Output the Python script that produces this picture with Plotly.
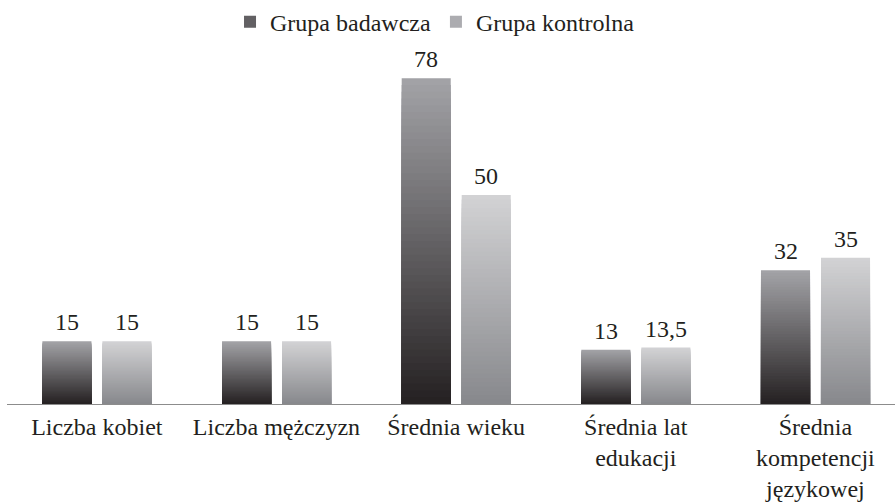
import plotly.graph_objects as go

categories = ["Liczba kobiet", "Liczba mężczyzn", "Średnia wieku",
              "Średnia lat<br>edukacji", "Średnia<br>kompetencji<br>językowej"]
badawcza = [15, 15, 78, 13, 32]
kontrolna = [15, 15, 50, 13.5, 35]
badawcza_labels = ["15", "15", "78", "13", "32"]
kontrolna_labels = ["15", "15", "50", "13,5", "35"]
series_names = ["Grupa badawcza", "Grupa kontrolna"]

FONT = "Liberation Serif"
TXT = "#231f20"
FS = 24
N = 48  # gradient steps


def lerp(c0, c1, t):
    return "rgb(%d,%d,%d)" % tuple(round(a + (b - a) * t) for a, b in zip(c0, c1))


WIDTH = 0.273
series = [
    dict(name=series_names[0], vals=badawcza, labels=badawcza_labels,
         bottom=(35, 31, 32), top=(162, 162, 166), offset=-0.303),
    dict(name=series_names[1], vals=kontrolna, labels=kontrolna_labels,
         bottom=(134, 135, 139), top=(210, 210, 212), offset=0.031),
]

fig = go.Figure()
for s in series:
    for k in range(N):
        frac = (N - k) / N
        color = lerp(s["bottom"], s["top"], frac)
        fig.add_trace(go.Bar(
            x=categories,
            y=[v * frac for v in s["vals"]],
            name=s["name"],
            legendgroup=s["name"],
            showlegend=(k == N // 2),
            marker=dict(color=color, line=dict(width=0)),
            width=WIDTH,
            offset=s["offset"],
            hoverinfo="skip",
        ))

# value labels above bars
PX_PER_CAT = 888 / 4.943
for s in series:
    center_px = (s["offset"] + WIDTH / 2) * PX_PER_CAT
    for cat, v, lab in zip(categories, s["vals"], s["labels"]):
        fig.add_annotation(x=cat, y=v, text=lab, showarrow=False,
                           xanchor="center", yanchor="bottom",
                           xshift=center_px, yshift=4,
                           font=dict(family=FONT, size=FS, color=TXT))

fig.update_layout(
    width=895, height=502,
    barmode="overlay",
    paper_bgcolor="white", plot_bgcolor="white",
    margin=dict(l=7, r=0, t=28, b=98, autoexpand=False),
    font=dict(family=FONT, size=FS, color=TXT),
    legend=dict(orientation="h", x=0.482, xanchor="center",
                yref="container", y=0.956, yanchor="middle",
                font=dict(family=FONT, size=FS, color=TXT),
                bgcolor="rgba(0,0,0,0)"),
    xaxis=dict(range=[-0.5, 4.443], showline=True, linecolor="#8c8c8c",
               linewidth=1, showgrid=False, ticks="outside", ticklen=1,
               tickcolor="rgba(0,0,0,0)", zeroline=False,
               automargin=False,
               tickfont=dict(family=FONT, size=FS, color=TXT)),
    yaxis=dict(range=[0, 90], visible=False, showgrid=False, zeroline=False,
               automargin=False),
)

fig.write_html("out.html", config={"displayModeBar": False},
               post_script="document.body.style.margin='0';")
